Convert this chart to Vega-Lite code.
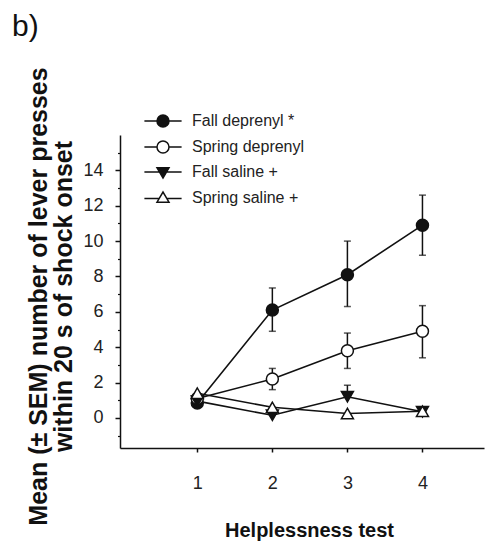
{
  "$schema": "https://vega.github.io/schema/vega-lite/v6.json",
  "width": 364,
  "height": 313,
  "autosize": {"type": "none"},
  "padding": {"left": 120, "top": 135, "right": 1, "bottom": 93},
  "background": "white",
  "config": {
    "view": {"stroke": null},
    "font": "Liberation Sans",
    "axis": {"grid": false, "domainColor": "#111", "tickColor": "#111", "labelColor": "#222", "titleColor": "#111", "labelFont": "Liberation Sans", "titleFont": "Liberation Sans"}
  },
  "title": {"text": "b)", "anchor": "start", "frame": "group", "fontSize": 30, "fontWeight": "normal", "font": "Liberation Sans", "color": "#111", "dx": -108, "dy": -21},
  "data": {
    "values": [
      {"group": "Fall deprenyl", "test": 1, "mean": 0.85, "lo": null, "hi": null},
      {"group": "Fall deprenyl", "test": 2, "mean": 6.1, "lo": 4.9, "hi": 7.35},
      {"group": "Fall deprenyl", "test": 3, "mean": 8.1, "lo": 6.3, "hi": 10.0},
      {"group": "Fall deprenyl", "test": 4, "mean": 10.9, "lo": 9.2, "hi": 12.6},
      {"group": "Spring deprenyl", "test": 1, "mean": 1.1, "lo": null, "hi": null},
      {"group": "Spring deprenyl", "test": 2, "mean": 2.2, "lo": 1.6, "hi": 2.8},
      {"group": "Spring deprenyl", "test": 3, "mean": 3.8, "lo": 2.8, "hi": 4.8},
      {"group": "Spring deprenyl", "test": 4, "mean": 4.9, "lo": 3.4, "hi": 6.35},
      {"group": "Fall saline +", "test": 1, "mean": 0.95, "lo": null, "hi": null},
      {"group": "Fall saline +", "test": 2, "mean": 0.15, "lo": null, "hi": null},
      {"group": "Fall saline +", "test": 3, "mean": 1.2, "lo": 1.2, "hi": 1.85},
      {"group": "Fall saline +", "test": 4, "mean": 0.35, "lo": null, "hi": null},
      {"group": "Spring saline +", "test": 1, "mean": 1.4, "lo": null, "hi": null},
      {"group": "Spring saline +", "test": 2, "mean": 0.6, "lo": null, "hi": null},
      {"group": "Spring saline +", "test": 3, "mean": 0.25, "lo": null, "hi": null},
      {"group": "Spring saline +", "test": 4, "mean": 0.38, "lo": null, "hi": null}
    ]
  },
  "layer": [
    {
      "transform": [{"filter": "datum.test > 99"}],
      "mark": {"type": "point", "filled": true, "opacity": 1, "stroke": "#111", "strokeWidth": 1.5, "size": 144},
      "encoding": {
        "x": {"field": "test", "type": "quantitative", "scale": {"domain": [-0.03, 4.82], "nice": false, "zero": false},
          "axis": {"values": [1, 2, 3, 4], "format": "d", "tickSize": 4, "tickWidth": 1.5, "domainWidth": 1.5, "labelFontSize": 18, "labelPadding": 22,
            "title": "Helplessness test", "titleFontSize": 20, "titleFontWeight": "bold", "titleX": 189, "titleY": 88, "titleBaseline": "alphabetic", "titleAlign": "center"}},
        "y": {"field": "mean", "type": "quantitative", "scale": {"domain": [-1.7, 16], "nice": false, "zero": false},
          "axis": {"orient": "left", "values": [-1, 1, 3, 5, 7, 9, 11, 13, 15], "labels": false, "domain": false, "tickSize": 2.5, "tickWidth": 1.2, "title": null}},
        "fill": {"field": "group", "type": "nominal",
          "scale": {"domain": ["Fall deprenyl", "Spring deprenyl", "Fall saline +", "Spring saline +"], "range": ["#111", "white", "#111", "white"]},
          "legend": {"title": null, "orient": "none", "legendX": 35, "legendY": -22, "padding": 0, "symbolSize": 144, "symbolStrokeWidth": 1.5, "symbolStrokeColor": "#111", "symbolOpacity": 1,
            "labelFontSize": 16, "labelColor": "#222", "labelFont": "Liberation Sans", "labelOffset": 21, "rowPadding": 8,
            "labelExpr": "datum.value == 'Fall deprenyl' ? 'Fall deprenyl  *' : datum.label",
            "encode": {"symbols": {"update": {"stroke": {"value": "#111"}, "strokeWidth": {"value": 1.5}}}}}},
        "shape": {"field": "group", "type": "nominal",
          "scale": {"domain": ["Fall deprenyl", "Spring deprenyl", "Fall saline +", "Spring saline +"],
            "range": ["M-3.1,0H-1M1,0H3.1M1,0A1,1,0,1,1,-1,0A1,1,0,1,1,1,0Z", "M-3.1,0H-1M1,0H3.1M1,0A1,1,0,1,1,-1,0A1,1,0,1,1,1,0Z", "M-3.1,0H3.1M-1,-0.7L1,-0.7L0,1Z", "M-3.1,0.1H-0.55M0.55,0.1H3.1M-1,0.7L1,0.7L0,-1Z"]},
          "legend": {"title": null, "orient": "none", "legendX": 35, "legendY": -22, "padding": 0, "symbolSize": 144, "symbolStrokeWidth": 1.5, "symbolStrokeColor": "#111", "symbolOpacity": 1,
            "labelFontSize": 16, "labelColor": "#222", "labelFont": "Liberation Sans", "labelOffset": 21, "rowPadding": 8,
            "labelExpr": "datum.value == 'Fall deprenyl' ? 'Fall deprenyl  *' : datum.label",
            "encode": {"symbols": {"update": {"stroke": {"value": "#111"}, "strokeWidth": {"value": 1.5}}}}}}
      }
    },
    {
      "mark": {"type": "errorbar", "color": "#111", "thickness": 1.5, "size": 7, "ticks": true},
      "encoding": {
        "x": {"field": "test", "type": "quantitative"},
        "y": {"field": "lo", "type": "quantitative",
          "axis": {"orient": "left", "values": [0, 2, 4, 6, 8, 10, 12, 14], "tickSize": 5, "tickWidth": 1.5, "domainWidth": 1.5, "labelFontSize": 18, "labelPadding": 12,
            "title": ["Mean (± SEM) number of lever presses", "within 20 s of shock onset"], "titleFontSize": 25, "titleFontWeight": "bold", "titleLineHeight": 25,
            "titleAngle": -90, "titleX": -74, "titleY": 161, "titleAlign": "center", "titleBaseline": "alphabetic"}},
        "y2": {"field": "hi"}
      }
    },
    {
      "mark": {"type": "line", "color": "#111", "strokeWidth": 1.6},
      "encoding": {
        "x": {"field": "test", "type": "quantitative"},
        "y": {"field": "mean", "type": "quantitative", "axis": null},
        "detail": {"field": "group"}
      }
    },
    {
      "mark": {"type": "point", "filled": true, "opacity": 1, "stroke": "#111", "strokeWidth": 1.5, "size": 144},
      "encoding": {
        "x": {"field": "test", "type": "quantitative"},
        "y": {"field": "mean", "type": "quantitative", "axis": null},
        "fill": {"field": "group", "type": "nominal", "legend": null,
          "scale": {"domain": ["Fall deprenyl", "Spring deprenyl", "Fall saline +", "Spring saline +"], "range": ["#111", "white", "#111", "white"]}},
        "shape": {"field": "group", "type": "nominal", "legend": null,
          "scale": {"domain": ["Fall deprenyl", "Spring deprenyl", "Fall saline +", "Spring saline +"], "range": ["circle", "circle", "triangle-down", "triangle-up"]}}
      }
    }
  ],
  "resolve": {"axis": {"y": "independent"}, "scale": {"shape": "independent", "fill": "independent"}}
}
